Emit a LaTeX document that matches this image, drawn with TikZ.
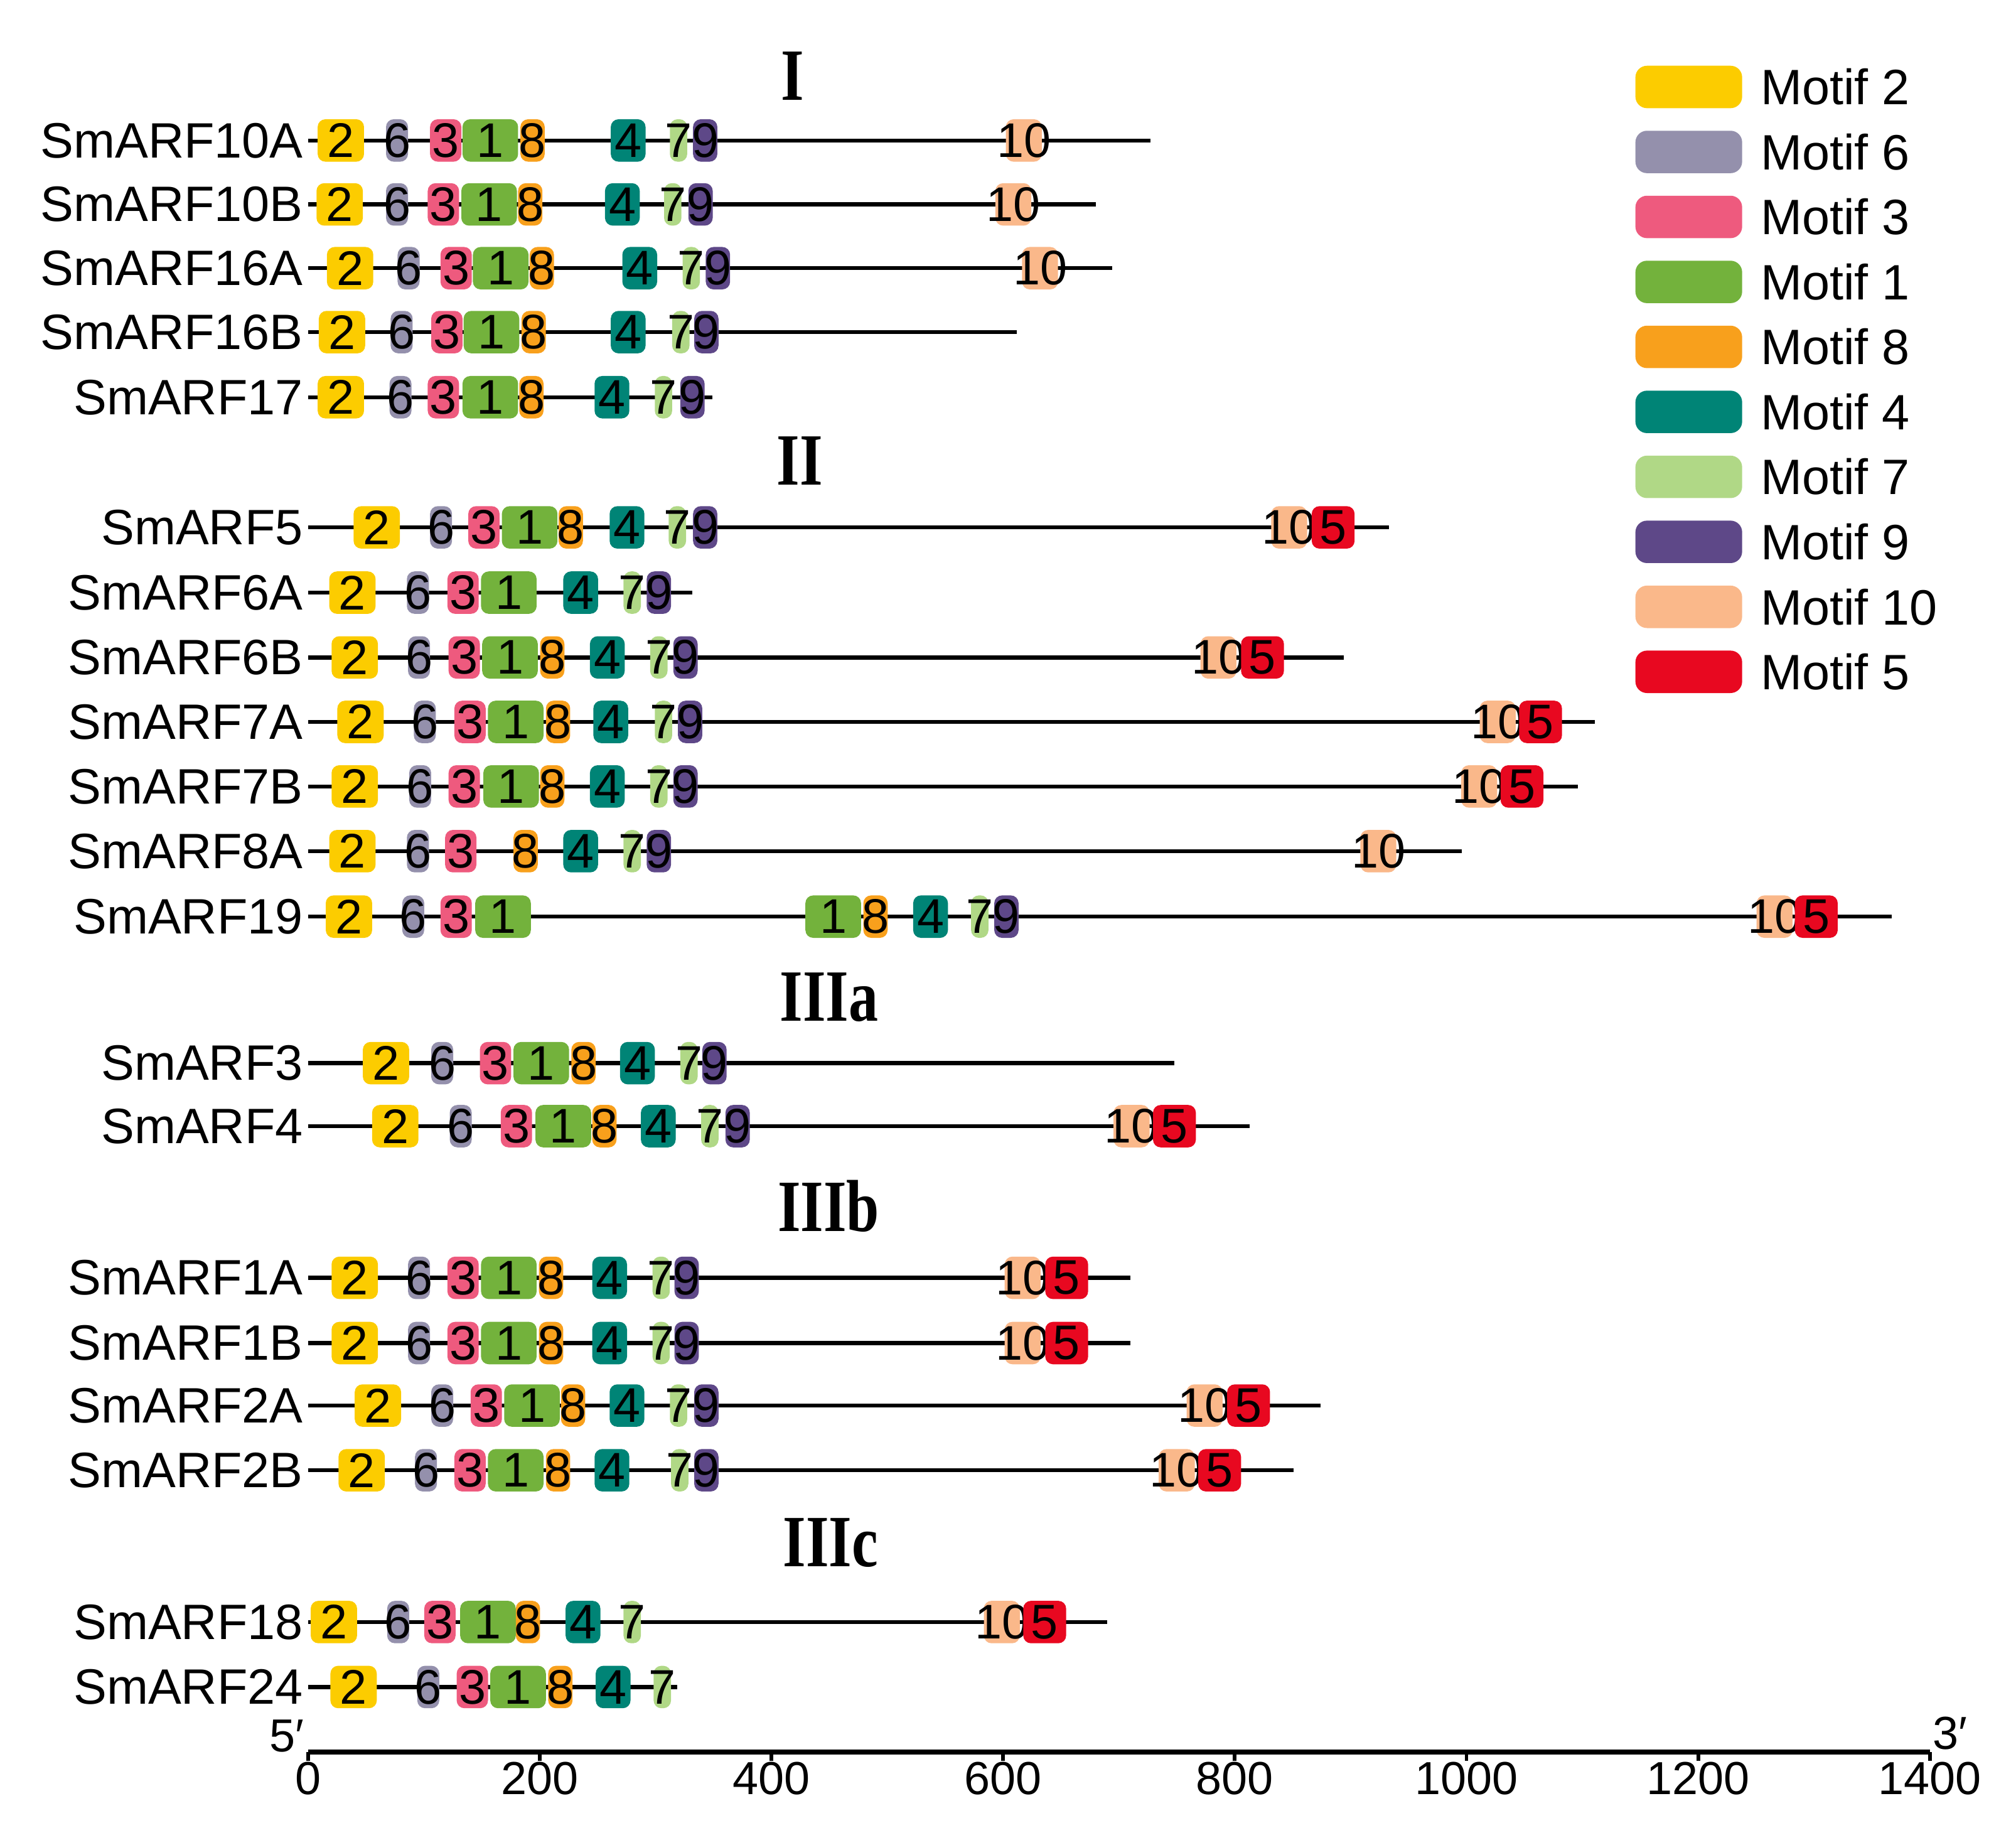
\documentclass[tikz,border=0pt]{standalone}
\usepackage{fontspec}
\setmainfont{Liberation Sans}
\newfontfamily\groupfont[FakeStretch=0.8]{Liberation Serif}
\usetikzlibrary{calc}

\definecolor{motif1}{RGB}{115,178,60}
\definecolor{motif2}{RGB}{252,204,0}
\definecolor{motif3}{RGB}{238,90,126}
\definecolor{motif4}{RGB}{0,132,118}
\definecolor{motif5}{RGB}{232,8,32}
\definecolor{motif6}{RGB}{148,144,172}
\definecolor{motif7}{RGB}{176,216,134}
\definecolor{motif8}{RGB}{248,160,28}
\definecolor{motif9}{RGB}{94,72,136}
\definecolor{motif10}{RGB}{250,184,138}

\tikzset{
	motifbox/.style={rounded corners=0.12cm, minimum height=0.66cm, inner sep=0pt, anchor=west},
	m1/.style={motifbox, fill=motif1, minimum width=0.865cm, every label/.append style={xshift=0.2cm}},
	m2/.style={motifbox, fill=motif2, minimum width=0.721cm},
	m3/.style={motifbox, fill=motif3, minimum width=0.487cm},
	m4/.style={motifbox, fill=motif4, minimum width=0.541cm},
	m5/.style={motifbox, fill=motif5, minimum width=0.667cm},
	m6/.style={motifbox, fill=motif6, minimum width=0.342cm},
	m7/.style={motifbox, fill=motif7, minimum width=0.270cm},
	m8/.style={motifbox, fill=motif8, minimum width=0.378cm},
	m9/.style={motifbox, fill=motif9, minimum width=0.378cm},
	m10/.style={motifbox, fill=motif10, minimum width=0.559cm, every label/.append style={xshift=0.1cm}},
	digit/.style={inner sep=0pt, font=\fontsize{21.5}{22}\selectfont},
	genename/.style={anchor=east, inner sep=0pt, font=\fontsize{22}{22}\selectfont},
	legendtext/.style={anchor=west, inner sep=0pt, font=\fontsize{22}{22}\selectfont},
	group/.style={anchor=base, inner sep=0pt, font=\groupfont\bfseries\fontsize{32.6}{33}\selectfont},
	ticklabel/.style={anchor=north, inner sep=0pt, font=\fontsize{20.5}{21}\selectfont},
	endlabel/.style={inner sep=0pt, font=\fontsize{20.5}{21}\selectfont},
	backbone/.style={line width=1.8pt},
	axisline/.style={line width=2.2pt},
	axistick/.style={line width=1.6pt}
}

\newcommand{\protein}[4]{
	\coordinate (#1s) at (0,#2);
	\coordinate (#1e) at (#3,#2);
	\draw[backbone] (#1s) -- (#1e);
	\node[genename] (#1) at (-4,#2) {#4};
}
\newcommand{\motif}[3]{
	\node[m#2, label={[digit]center:#2}] (#1-#3) at ($(#1s)+(#3,0)$) {};
}
\newcommand{\motifs}[2]{
	\foreach \m/\p in {#2} {
		\motif{#1}{\m}{\p}
	}
}

\begin{document}
\begin{tikzpicture}[x=0.018022cm, y=-0.02cm]
	\useasboundingbox (-265.8,0) rectangle (1474.3,1421);

	\node[group] (gI) at (418.4,78) {I};
	\protein{10A}{109.2}{727}{SmARF10A};
	\motifs{10A}{2/8, 6/67, 3/105, 1/133, 8/183, 4/261, 7/312, 9/332, 10/602};
	\protein{10B}{158.9}{680}{SmARF10B};
	\motifs{10B}{2/7, 6/67, 3/103, 1/132, 8/181, 4/256, 7/307, 9/328, 10/593};
	\protein{16A}{208.5}{694}{SmARF16A};
	\motifs{16A}{2/16, 6/77, 3/114, 1/142, 8/191, 4/271, 7/323, 9/343, 10/616};
	\protein{16B}{258.2}{612}{SmARF16B};
	\motifs{16B}{2/9, 6/71, 3/106, 1/134, 8/184, 4/261, 7/314, 9/333};
	\protein{17}{308.8}{349}{SmARF17};
	\motifs{17}{2/8, 6/70, 3/103, 1/133, 8/182, 4/247, 7/299, 9/321};

	\node[group] (gII) at (424.5,377) {II};
	\protein{5}{410}{933}{SmARF5};
	\motifs{5}{2/39, 6/105, 3/138, 1/167, 8/216, 4/260, 7/311, 9/332, 10/831, 5/866};
	\protein{6A}{460.7}{332}{SmARF6A};
	\motifs{6A}{2/18, 6/85, 3/120, 1/149, 4/220, 7/272, 9/292};
	\protein{6B}{511.1}{894}{SmARF6B};
	\motifs{6B}{2/20, 6/86, 3/121, 1/150, 8/200, 4/243, 7/295, 9/315, 10/770, 5/805};
	\protein{7A}{561.2}{1111}{SmARF7A};
	\motifs{7A}{2/25, 6/91, 3/126, 1/155, 8/205, 4/246, 7/299, 9/319, 10/1011, 5/1045};
	\protein{7B}{611.4}{1096}{SmARF7B};
	\motifs{7B}{2/20, 6/87, 3/121, 1/151, 8/200, 4/243, 7/295, 9/315, 10/995, 5/1029};
	\protein{8A}{661.7}{996}{SmARF8A};
	\motifs{8A}{2/18, 6/85, 3/118, 8/177, 4/220, 7/272, 9/292, 10/908};
	\protein{19}{712.6}{1367}{SmARF19};
	\motifs{19}{2/15, 6/81, 3/114, 1/144, 1/429, 8/479, 4/522, 7/572, 9/592, 10/1250, 5/1283};

	\node[group] (gIIIa) at (449.9,794) {IIIa};
	\protein{3}{826.5}{748}{SmARF3};
	\motifs{3}{2/47, 6/106, 3/148, 1/177, 8/227, 4/269, 7/321, 9/340};
	\protein{4}{875.5}{813}{SmARF4};
	\motifs{4}{2/55, 6/122, 3/166, 1/196, 8/245, 4/287, 7/339, 9/360, 10/695, 5/729};

	\node[group] (gIIIb) at (449.4,957) {IIIb};
	\protein{1A}{993.4}{710}{SmARF1A};
	\motifs{1A}{2/20, 6/86, 3/120, 1/149, 8/199, 4/245, 7/297, 9/316, 10/601, 5/636};
	\protein{1B}{1044.1}{710}{SmARF1B};
	\motifs{1B}{2/20, 6/86, 3/120, 1/149, 8/199, 4/245, 7/297, 9/316, 10/601, 5/636};
	\protein{2A}{1092.7}{874}{SmARF2A};
	\motifs{2A}{2/40, 6/106, 3/140, 1/169, 8/218, 4/260, 7/312, 9/333, 10/758, 5/793};
	\protein{2B}{1143}{851}{SmARF2B};
	\motifs{2B}{2/26, 6/92, 3/126, 1/155, 8/205, 4/247, 7/313, 9/333, 10/734, 5/768};

	\node[group] (gIIIc) at (451.2,1218) {IIIc};
	\protein{18}{1261}{690}{SmARF18};
	\motifs{18}{2/2, 6/68, 3/100, 1/131, 8/179, 4/222, 7/272, 10/583, 5/617};
	\protein{24}{1311.5}{319}{SmARF24};
	\motifs{24}{2/19, 6/94, 3/128, 1/157, 8/207, 4/248, 7/298};

	\foreach \m [count=\i from 0] in {2,6,3,1,8,4,7,9,10,5} {
		\node[m\m, minimum width=1.66cm, rounded corners=0.18cm] (key\m) at (1145.4,67.6+50.52*\i) {};
		\node[legendtext] (keytext\m) at (1253.5,67.6+50.52*\i) {Motif \m};
	}

	\coordinate (axis0) at (0,1362);
	\coordinate (axis1) at (1400,1362);
	\draw[axisline] (axis0) -- (axis1);
	\foreach \t in {0,200,...,1400} {
		\draw[axistick] (\t,1362) -- ++(0,7);
		\node[ticklabel] (tick\t) at (\t,1369.5) {\t};
	}
	\node[endlabel, anchor=base east] (five) at (-3,1362) {5′};
	\node[endlabel, anchor=base west] (three) at (1402,1360) {3′};
\end{tikzpicture}
\end{document}
